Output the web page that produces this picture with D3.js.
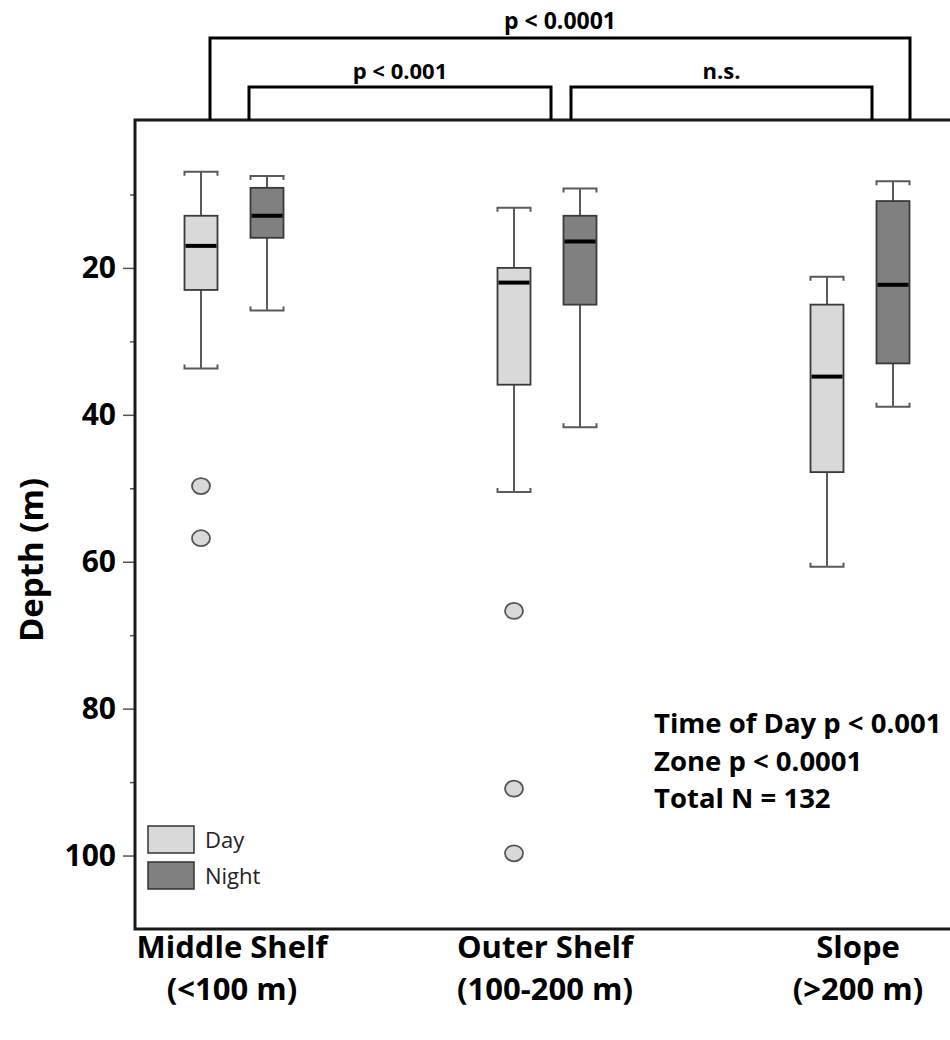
<!DOCTYPE html>
<html>
<head>
<meta charset="utf-8">
<script src="https://cdn.jsdelivr.net/npm/d3@7"></script>
<style>
  body { margin: 0; background: #fff; }
  text { font-family: "Open Sans", sans-serif; }
</style>
</head>
<body>
<div id="chart"></div>
<script>
// Data (depth in m)
const zones = ["Middle Shelf", "Outer Shelf", "Slope"];
const zoneRanges = ["(<100 m)", "(100-200 m)", "(>200 m)"];
const periods = ["Day", "Night"];

// [upper whisker, q1, median, q3, lower whisker] (shallow -> deep)
const dayStats = [
    [6.9, 12.9, 17.0, 23.0, 33.7],
    [11.8, 20.0, 22.0, 35.9, 50.5],
    [21.2, 25.0, 34.8, 47.8, 60.7]
];
const nightStats = [
    [7.5, 9.1, 12.9, 15.9, 25.8],
    [9.2, 12.9, 16.4, 25.0, 41.7],
    [8.2, 10.9, 22.3, 33.0, 38.9]
];
const dayOutliers = [[49.7, 56.8], [66.7, 90.9, 99.7], []];
const nightOutliers = [[], [], []];

const yTicks = [20, 40, 60, 80, 100];
const yMinorTicks = [10, 30, 50, 70, 90];

const brackets = [
    {from: "Middle Shelf", to: "Slope", label: "p < 0.0001"},
    {from: "Middle Shelf", to: "Outer Shelf", label: "p < 0.001"},
    {from: "Outer Shelf", to: "Slope", label: "n.s."}
];
const statLines = ["Time of Day p < 0.001", "Zone p < 0.0001", "Total N = 132"];

// Layout
const width = 950, height = 1040;
const plot = {left: 135, top: 120, right: 950, bottom: 929};
const fills = {Day: "#d9d9d9", Night: "#808080"};
const boxW = 33;

const svg = d3.select("#chart")
    .append("svg")
    .attr("width", width)
    .attr("height", height);

// Scales
const y = d3.scaleLinear().domain([0, 110]).range([121, plot.bottom]);
const x = d3.scalePoint().domain(zones).range([234, 860]);
const xSub = d3.scalePoint().domain(periods).range([-33, 33]);

// Y axis (major + minor ticks)
const yAxis = svg.append("g")
    .attr("transform", `translate(${plot.left},0)`)
    .call(d3.axisLeft(y).tickValues(yTicks).tickSize(12).tickPadding(7));
yAxis.select(".domain").remove();
yAxis.selectAll("line").attr("stroke", "#555").attr("stroke-width", 1.5);
yAxis.selectAll("text")
    .attr("fill", "#000")
    .style("font-size", "30px")
    .style("font-weight", "bold");

const yMinor = svg.append("g")
    .attr("transform", `translate(${plot.left},0)`)
    .call(d3.axisLeft(y).tickValues(yMinorTicks).tickSize(5).tickFormat(""));
yMinor.select(".domain").remove();
yMinor.selectAll("line").attr("stroke", "#555").attr("stroke-width", 1.5);

// Axis title
svg.append("text")
    .attr("transform", `translate(43,560) rotate(-90)`)
    .attr("text-anchor", "middle")
    .style("font-size", "33px")
    .style("font-weight", "bold")
    .text("Depth (m)");

// Build box records
const boxes = [];
zones.forEach((z, i) => {
    boxes.push({zone: z, period: "Day", s: dayStats[i], out: dayOutliers[i]});
    boxes.push({zone: z, period: "Night", s: nightStats[i], out: nightOutliers[i]});
});

const g = svg.selectAll(".box")
    .data(boxes)
    .enter()
    .append("g")
    .attr("class", "box")
    .attr("transform", d => `translate(${x(d.zone) + xSub(d.period)},0)`);

// Whiskers
g.append("line")
    .attr("x1", 0).attr("x2", 0)
    .attr("y1", d => y(d.s[0])).attr("y2", d => y(d.s[1]))
    .attr("stroke", "#5a5a5a").attr("stroke-width", 2);
g.append("line")
    .attr("x1", 0).attr("x2", 0)
    .attr("y1", d => y(d.s[3])).attr("y2", d => y(d.s[4]))
    .attr("stroke", "#5a5a5a").attr("stroke-width", 2);

// Caps with small turned-in ends
g.append("path")
    .attr("d", d => `M${-boxW / 2},${y(d.s[0]) + 4}V${y(d.s[0])}H${boxW / 2}V${y(d.s[0]) + 4}`)
    .attr("fill", "none").attr("stroke", "#5a5a5a").attr("stroke-width", 2);
g.append("path")
    .attr("d", d => `M${-boxW / 2},${y(d.s[4]) - 4}V${y(d.s[4])}H${boxW / 2}V${y(d.s[4]) - 4}`)
    .attr("fill", "none").attr("stroke", "#5a5a5a").attr("stroke-width", 2);

// Boxes
g.append("rect")
    .attr("x", -boxW / 2)
    .attr("width", boxW)
    .attr("y", d => y(d.s[1]))
    .attr("height", d => y(d.s[3]) - y(d.s[1]))
    .attr("fill", d => fills[d.period])
    .attr("stroke", "#3a3a3a")
    .attr("stroke-width", 1.8);

// Medians
g.append("line")
    .attr("x1", -boxW / 2 + 1).attr("x2", boxW / 2 - 1)
    .attr("y1", d => y(d.s[2])).attr("y2", d => y(d.s[2]))
    .attr("stroke", "#000").attr("stroke-width", 4);

// Outliers
g.selectAll(".outlier")
    .data(d => d.out.map(v => ({v, period: d.period})))
    .enter()
    .append("ellipse")
    .attr("class", "outlier")
    .attr("cx", 0)
    .attr("cy", d => y(d.v))
    .attr("rx", 9).attr("ry", 8)
    .attr("fill", d => fills[d.period])
    .attr("stroke", "#555")
    .attr("stroke-width", 1.8);

// Plot frame (left, top, bottom)
svg.append("path")
    .attr("d", `M${plot.right},${plot.top}H${plot.left}V${plot.bottom}H${plot.right}`)
    .attr("fill", "none")
    .attr("stroke", "#1a1a1a")
    .attr("stroke-width", 3);

// Zone labels
zones.forEach((z, i) => {
    const t = svg.append("text")
        .attr("text-anchor", "middle")
        .style("font-size", "31px")
        .style("font-weight", "bold");
    t.append("tspan").attr("x", x(z) - 2).attr("y", 958).text(z);
    t.append("tspan").attr("x", x(z) - 2).attr("y", 1000).text(zoneRanges[i]);
});

// Significance brackets
const bracketPos = [
    {x1: x(brackets[0].from) - 24, x2: x(brackets[0].to) + 50, top: 38, ly: 29, fs: 23},
    {x1: x(brackets[1].from) + 15, x2: x(brackets[1].to) + 4, top: 87, ly: 79, fs: 22},
    {x1: x(brackets[2].from) + 24, x2: x(brackets[2].to) + 12, top: 87, ly: 79, fs: 22}
];
brackets.forEach((b, i) => {
    const p = bracketPos[i];
    svg.append("path")
        .attr("d", `M${p.x1},${plot.top}V${p.top}H${p.x2}V${plot.top}`)
        .attr("fill", "none")
        .attr("stroke", "#000")
        .attr("stroke-width", 3);
    svg.append("text")
        .attr("x", (p.x1 + p.x2) / 2)
        .attr("y", p.ly)
        .attr("text-anchor", "middle")
        .style("font-size", p.fs + "px")
        .style("font-weight", "bold")
        .text(b.label);
});

// Stats annotation
svg.append("g")
    .selectAll("text")
    .data(statLines)
    .enter()
    .append("text")
    .attr("x", 654)
    .attr("y", (d, i) => 733 + i * 37.5)
    .style("font-size", "27.5px")
    .style("font-weight", "bold")
    .text(d => d);

// Legend
const legend = svg.append("g").attr("transform", "translate(148,826)");
legend.selectAll("rect")
    .data(periods)
    .enter()
    .append("rect")
    .attr("x", 0)
    .attr("y", (d, i) => i * 36)
    .attr("width", 46)
    .attr("height", 27)
    .attr("fill", d => fills[d])
    .attr("stroke", "#333")
    .attr("stroke-width", 1.5);
legend.selectAll("text")
    .data(periods)
    .enter()
    .append("text")
    .attr("x", 57)
    .attr("y", (d, i) => i * 36 + 22)
    .attr("fill", "#222")
    .style("font-size", "22px")
    .text(d => d);
</script>
</body>
</html>
